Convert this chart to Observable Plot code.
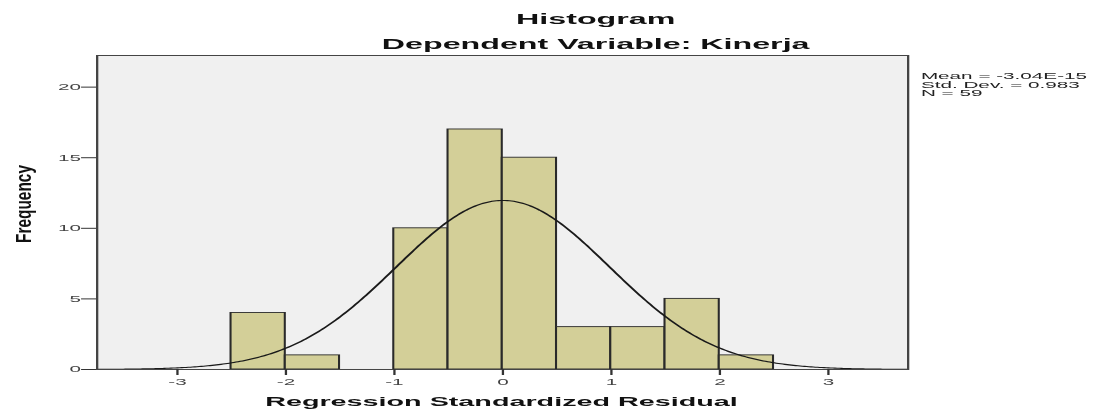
<!DOCTYPE html>
<html>
<head>
<meta charset="utf-8">
<script src="https://cdn.jsdelivr.net/npm/d3@7"></script>
<script src="https://cdn.jsdelivr.net/npm/@observablehq/plot@0.6"></script>
<style>
  html, body { margin: 0; padding: 0; background: #fff; overflow: hidden; }
  #wrap { position: relative; width: 478.26px; height: 409px; transform: scaleX(2.3); transform-origin: 0 0;
          font-family: "Liberation Sans", Arial, sans-serif; }
  #titles { position: relative; height: 54px; }
  .t { position: absolute; left: 159px; width: 200px; text-align: center; white-space: nowrap;
       font-weight: bold; font-size: 14px; color: #111; line-height: 14px; }
  #chart svg { display: block; }
</style>
</head>
<body>
<div id="wrap">
  <div id="titles">
    <div class="t" style="top:12px">Histogram</div>
    <div class="t" style="top:37px">Dependent Variable: Kinerja</div>
  </div>
  <div id="chart"></div>
</div>
<script>
// ---- data ----
const binStarts   = [-2.5, -2.0, -1.0, -0.5, 0.0, 0.5, 1.0, 1.5, 2.0];
const frequencies = [4, 1, 10, 17, 15, 3, 3, 5, 1];
const binWidth = 0.5;
const xTicks = [-3, -2, -1, 0, 1, 2, 3];
const yTicks = [0, 5, 10, 15, 20];
const statsLines = ["Mean = -3.04E-15", "Std. Dev. = 0.983", "N = 59"];
const statMean = -3.04e-15, statSd = 0.983, statN = 59;
const xLabel = "Regression Standardized Residual";
const yLabel = "Frequency";

const bins = binStarts.map((b, i) => ({x1: b, x2: b + binWidth, y: frequencies[i]}));
// normal curve implied by the legend statistics (as SPSS draws it)
const curve = d3.range(-3.74, 3.7401, 0.02).map(x => ({
  x, y: statN * binWidth * Math.exp(-0.5 * ((x - statMean) / statSd) ** 2) / (statSd * Math.sqrt(2 * Math.PI))
}));

const W = 478.26, H = 355;
const plot = Plot.plot({
  width: W, height: H,
  marginLeft: 41.74, marginRight: 83.9, marginTop: 1, marginBottom: 40,
  style: {fontSize: "9px", fontFamily: "'Liberation Sans', Arial, sans-serif", background: "transparent", overflow: "visible"},
  x: {domain: [-3.74, 3.735], ticks: xTicks},
  y: {domain: [0, 22.24], ticks: yTicks},
  marks: [
    Plot.frame({fill: "#f0f0f0", stroke: "none"}),
    Plot.rect(bins, {x1: "x1", x2: "x2", y1: 0, y2: "y", fill: "#d3cf98", stroke: "#2a2a2a", strokeWidth: 0.9}),
    Plot.line(curve, {x: "x", y: "y", stroke: "#1a1a1a", strokeWidth: 1.1, clip: true}),
    Plot.frame({stroke: "#444", strokeWidth: 1}),
    Plot.axisX({ticks: xTicks, tickSize: 6, tickPadding: 3, label: null, stroke: "#333", fill: "#444", tickFormat: d => d}),
    Plot.axisY({ticks: yTicks, tickSize: 6.5, tickPadding: 0.5, label: null, stroke: "#333", fill: "#444", tickFormat: d => d})
  ]
});
document.getElementById("chart").appendChild(plot);

const svg = d3.select(plot);
svg.append("text")
  .attr("x", (41.74 + (W - 83.9)) / 2).attr("y", 352)
  .attr("text-anchor", "middle")
  .attr("font-size", 12.5).attr("font-weight", "bold").attr("fill", "#111")
  .text(xLabel);
svg.append("text")
  .attr("transform", "translate(10,150) rotate(-90)")
  .attr("text-anchor", "middle").attr("dy", "0.35em")
  .attr("font-size", 9.5).attr("font-weight", "bold").attr("fill", "#111")
  .attr("textLength", 78).attr("lengthAdjust", "spacingAndGlyphs")
  .text(yLabel);
svg.append("g").selectAll("text").data(statsLines).join("text")
  .attr("x", 400.4).attr("y", (d, i) => 25.3 + i * 8.4)
  .attr("text-anchor", "start")
  .attr("font-size", 9).attr("fill", "#222")
  .text(d => d);
</script>
</body>
</html>
